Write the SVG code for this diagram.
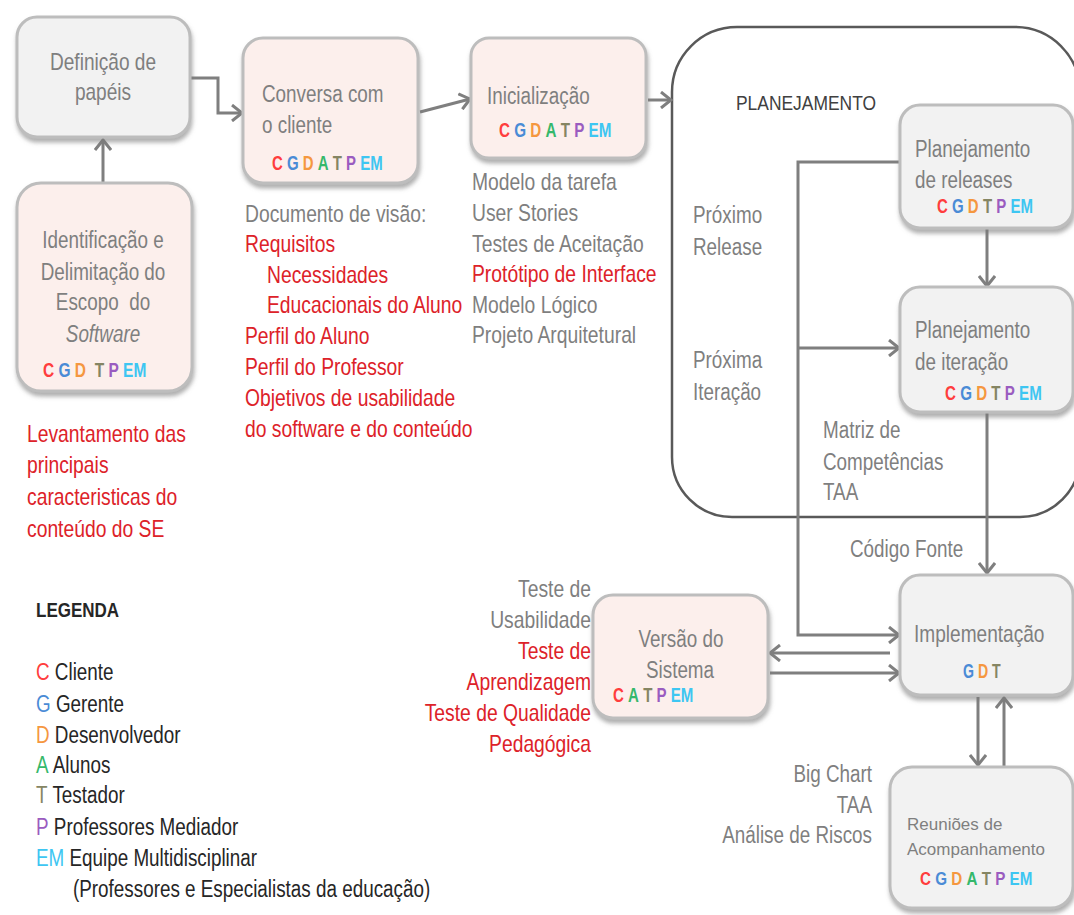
<svg xmlns="http://www.w3.org/2000/svg" width="1074" height="915" viewBox="0 0 1074 915">
<style>
.t{font-family:"Liberation Sans",Arial,sans-serif;font-size:23px}
.s{font-family:"Liberation Sans",Arial,sans-serif;font-size:17px}
.g{fill:#7f7f7f}
.r{fill:#dd2229}
.k{fill:#262626}
.m{text-anchor:middle}
.e{text-anchor:end}
.ro{font-family:"Liberation Sans",Arial,sans-serif;font-size:20px;font-weight:bold}
.cC{fill:#ff3d3d}.cG{fill:#4a8bd6}.cD{fill:#f5973f}.cA{fill:#35b86b}.cT{fill:#858563}.cP{fill:#9a5cc0}.cE{fill:#3ec6f2}
.box{stroke:#bdbdbd;stroke-width:3;filter:url(#sh)}
.gy{fill:#f2f2f2}
.pk{fill:#fcefec}
.ca{fill:none;stroke:#7f7f7f;stroke-width:3;marker-end:url(#ah)}
</style>
<defs>
<filter id="sh" x="-10%" y="-10%" width="125%" height="130%">
<feDropShadow dx="1" dy="4" stdDeviation="2" flood-color="#7a7a7a" flood-opacity="0.6"/>
</filter>
<marker id="ah" markerUnits="userSpaceOnUse" markerWidth="14" markerHeight="18" refX="11" refY="9" orient="auto">
<path d="M1,1 L11,9 L1,17" fill="none" stroke="#7f7f7f" stroke-width="3"/>
</marker>
</defs>
<rect width="1074" height="915" fill="#ffffff"/>

<g id="planejamento">
<path d="M672,92 A65,65 0 0 1 737,27 H1015 A65,65 0 0 1 1080,92 V457 A60,60 0 0 1 1020,517 H732 A60,60 0 0 1 672,457 Z" fill="none" stroke="#595959" stroke-width="2.5"/>
<text class="t" transform="matrix(.83 0 0 1 736 110)" style="font-size:21px;fill:#404040">PLANEJAMENTO</text>
<text class="t g" transform="matrix(.82 0 0 1 693 223)">Próximo</text>
<text class="t g" transform="matrix(.82 0 0 1 693 255)">Release</text>
<text class="t g" transform="matrix(.82 0 0 1 693 368)">Próxima</text>
<text class="t g" transform="matrix(.82 0 0 1 693 400)">Iteração</text>
</g>

<g id="connectors">
<path class="ca" d="M103,183 V140"/>
<path class="ca" d="M191,78 H218 V113 H242"/>
<path class="ca" d="M420,112 L470,99"/>
<path class="ca" d="M648,100 H671"/>
<path class="ca" d="M987,229 V286"/>
<path class="ca" d="M900,162 H798 V635 H899"/>
<path class="ca" d="M798,348 H899"/>
<path class="ca" d="M987,413 V573"/>
<path class="ca" d="M890,653 H770"/>
<path class="ca" d="M770,673 H899"/>
<path class="ca" d="M978,697 V765"/>
<path class="ca" d="M1004,767 V698"/>
</g>

<g id="definicao">
<rect class="box gy" x="17" y="17" width="173" height="120" rx="20"/>
<text class="t g m" transform="matrix(.83 0 0 1 103 70)">Definição de</text>
<text class="t g m" transform="matrix(.83 0 0 1 103 100)">papéis</text>
</g>

<g id="identificacao">
<rect class="box pk" x="17" y="183" width="175" height="208" rx="24"/>
<text class="t g m" transform="matrix(.82 0 0 1 103 248)">Identificação e</text>
<text class="t g m" transform="matrix(.82 0 0 1 103 280)">Delimitação do</text>
<text class="t g m" transform="matrix(.82 0 0 1 103 310)" xml:space="preserve">Escopo  do</text>
<text class="t g m" transform="matrix(.82 0 0 1 103 342)" font-style="italic">Software</text>
<text class="ro" transform="matrix(.82 0 0 1 43 377)" textLength="126" lengthAdjust="spacingAndGlyphs" xml:space="preserve"><tspan class="cC">C</tspan> <tspan class="cG">G</tspan> <tspan class="cD">D</tspan>  <tspan class="cT">T</tspan> <tspan class="cP">P</tspan> <tspan class="cE">EM</tspan></text>
</g>

<g id="conversa">
<rect class="box pk" x="243" y="38" width="175" height="145" rx="20"/>
<text class="t g" transform="matrix(.82 0 0 1 262 102)">Conversa com</text>
<text class="t g" transform="matrix(.82 0 0 1 262 133)">o cliente</text>
<text class="ro" transform="matrix(.82 0 0 1 272 170)" textLength="135" lengthAdjust="spacingAndGlyphs" xml:space="preserve"><tspan class="cC">C</tspan> <tspan class="cG">G</tspan> <tspan class="cD">D</tspan> <tspan class="cA">A</tspan> <tspan class="cT">T</tspan> <tspan class="cP">P</tspan> <tspan class="cE">EM</tspan></text>
</g>

<g id="inicializacao">
<rect class="box pk" x="471" y="38" width="175" height="120" rx="18"/>
<text class="t g" transform="matrix(.82 0 0 1 487 104)">Inicialização</text>
<text class="ro" transform="matrix(.82 0 0 1 499 137)" textLength="137" lengthAdjust="spacingAndGlyphs" xml:space="preserve"><tspan class="cC">C</tspan> <tspan class="cG">G</tspan> <tspan class="cD">D</tspan> <tspan class="cA">A</tspan> <tspan class="cT">T</tspan> <tspan class="cP">P</tspan> <tspan class="cE">EM</tspan></text>
</g>

<g id="releases">
<rect class="box gy" x="900" y="105" width="173" height="123" rx="20"/>
<text class="t g" transform="matrix(.82 0 0 1 915 157)">Planejamento</text>
<text class="t g" transform="matrix(.82 0 0 1 915 188)">de releases</text>
<text class="ro" transform="matrix(.82 0 0 1 937 213)" textLength="117" lengthAdjust="spacingAndGlyphs" xml:space="preserve"><tspan class="cC">C</tspan> <tspan class="cG">G</tspan> <tspan class="cD">D</tspan> <tspan class="cT">T</tspan> <tspan class="cP">P</tspan> <tspan class="cE">EM</tspan></text>
</g>

<g id="iteracao">
<rect class="box gy" x="900" y="287" width="173" height="125" rx="20"/>
<text class="t g" transform="matrix(.82 0 0 1 915 338)">Planejamento</text>
<text class="t g" transform="matrix(.82 0 0 1 915 370)">de iteração</text>
<text class="ro" transform="matrix(.82 0 0 1 945 400)" textLength="118" lengthAdjust="spacingAndGlyphs" xml:space="preserve"><tspan class="cC">C</tspan> <tspan class="cG">G</tspan> <tspan class="cD">D</tspan> <tspan class="cT">T</tspan> <tspan class="cP">P</tspan> <tspan class="cE">EM</tspan></text>
</g>

<g id="implementacao">
<rect class="box gy" x="900" y="575" width="173" height="120" rx="20"/>
<text class="t g" transform="matrix(.83 0 0 1 914 642)">Implementação</text>
<text class="ro" transform="matrix(.82 0 0 1 963 678)" textLength="46" lengthAdjust="spacingAndGlyphs" xml:space="preserve"><tspan class="cG">G</tspan> <tspan class="cD">D</tspan> <tspan class="cT">T</tspan></text>
</g>

<g id="versao">
<rect class="box pk" x="593" y="595" width="175" height="123" rx="20"/>
<text class="t g m" transform="matrix(.82 0 0 1 681 647)">Versão do</text>
<text class="t g m" transform="matrix(.82 0 0 1 680 678)">Sistema</text>
<text class="ro" transform="matrix(.82 0 0 1 613 702)" textLength="98" lengthAdjust="spacingAndGlyphs" xml:space="preserve"><tspan class="cC">C</tspan> <tspan class="cA">A</tspan> <tspan class="cT">T</tspan> <tspan class="cP">P</tspan> <tspan class="cE">EM</tspan></text>
</g>

<g id="reunioes">
<rect class="box gy" x="890" y="767" width="183" height="141" rx="22"/>
<text class="s g" x="907" y="830">Reuniões de</text>
<text class="s g" x="907" y="855">Acompanhamento</text>
<text class="ro" transform="matrix(.82 0 0 1 920 885)" style="font-size:18px" textLength="137" lengthAdjust="spacingAndGlyphs" xml:space="preserve"><tspan class="cC">C</tspan> <tspan class="cG">G</tspan> <tspan class="cD">D</tspan> <tspan class="cA">A</tspan> <tspan class="cT">T</tspan> <tspan class="cP">P</tspan> <tspan class="cE">EM</tspan></text>
</g>

<g id="levantamento">
<text class="t r" transform="matrix(.84 0 0 1 27 442)">Levantamento das</text>
<text class="t r" transform="matrix(.84 0 0 1 27 473)">principais</text>
<text class="t r" transform="matrix(.84 0 0 1 27 505)">caracteristicas do</text>
<text class="t r" transform="matrix(.84 0 0 1 27 537)">conteúdo do SE</text>
</g>

<g id="documento">
<text class="t g" transform="matrix(.84 0 0 1 245 222)">Documento de visão:</text>
<text class="t r" transform="matrix(.84 0 0 1 245 252)">Requisitos</text>
<text class="t r" transform="matrix(.84 0 0 1 267 283)">Necessidades</text>
<text class="t r" transform="matrix(.84 0 0 1 267 313)">Educacionais do Aluno</text>
<text class="t r" transform="matrix(.84 0 0 1 245 344)">Perfil do Aluno</text>
<text class="t r" transform="matrix(.84 0 0 1 245 375)">Perfil do Professor</text>
<text class="t r" transform="matrix(.84 0 0 1 245 406)">Objetivos de usabilidade</text>
<text class="t r" transform="matrix(.84 0 0 1 245 437)">do software e do conteúdo</text>
</g>

<g id="artefatos">
<text class="t g" transform="matrix(.84 0 0 1 472 190)">Modelo da tarefa</text>
<text class="t g" transform="matrix(.84 0 0 1 472 221)">User Stories</text>
<text class="t g" transform="matrix(.84 0 0 1 472 252)">Testes de Aceitação</text>
<text class="t r" transform="matrix(.84 0 0 1 472 282)">Protótipo de Interface</text>
<text class="t g" transform="matrix(.84 0 0 1 472 313)">Modelo Lógico</text>
<text class="t g" transform="matrix(.84 0 0 1 472 343)">Projeto Arquitetural</text>
</g>

<g id="matriz">
<text class="t g" transform="matrix(.82 0 0 1 823 438)">Matriz de</text>
<text class="t g" transform="matrix(.82 0 0 1 823 470)">Competências</text>
<text class="t g" transform="matrix(.82 0 0 1 823 500)">TAA</text>
<text class="t g" transform="matrix(.82 0 0 1 850 557)">Código Fonte</text>
</g>

<g id="testes">
<text class="t g e" transform="matrix(.84 0 0 1 591 597)">Teste de</text>
<text class="t g e" transform="matrix(.84 0 0 1 591 628)">Usabilidade</text>
<text class="t r e" transform="matrix(.84 0 0 1 591 659)">Teste de</text>
<text class="t r e" transform="matrix(.84 0 0 1 591 690)">Aprendizagem</text>
<text class="t r e" transform="matrix(.84 0 0 1 591 721)">Teste de Qualidade</text>
<text class="t r e" transform="matrix(.84 0 0 1 591 752)">Pedagógica</text>
</g>

<g id="acompanhamento">
<text class="t g e" transform="matrix(.82 0 0 1 872 782)">Big Chart</text>
<text class="t g e" transform="matrix(.82 0 0 1 872 813)">TAA</text>
<text class="t g e" transform="matrix(.82 0 0 1 872 843)">Análise de Riscos</text>
</g>

<g id="legenda">
<text class="t k" transform="matrix(.85 0 0 1 36 617)" style="font-size:20px;font-weight:bold">LEGENDA</text>
<text class="t k" transform="matrix(.82 0 0 1 36 680)"><tspan class="cC">C</tspan> Cliente</text>
<text class="t k" transform="matrix(.82 0 0 1 36 712)"><tspan class="cG">G</tspan> Gerente</text>
<text class="t k" transform="matrix(.82 0 0 1 36 743)"><tspan class="cD">D</tspan> Desenvolvedor</text>
<text class="t k" transform="matrix(.82 0 0 1 36 773)"><tspan class="cA">A</tspan> Alunos</text>
<text class="t k" transform="matrix(.82 0 0 1 36 803)"><tspan class="cT">T</tspan> Testador</text>
<text class="t k" transform="matrix(.82 0 0 1 36 835)"><tspan class="cP">P</tspan> Professores Mediador</text>
<text class="t k" transform="matrix(.82 0 0 1 36 866)"><tspan class="cE">EM</tspan> Equipe Multidisciplinar</text>
<text class="t k" transform="matrix(.82 0 0 1 73 897)">(Professores e Especialistas da educação)</text>
</g>
</svg>
